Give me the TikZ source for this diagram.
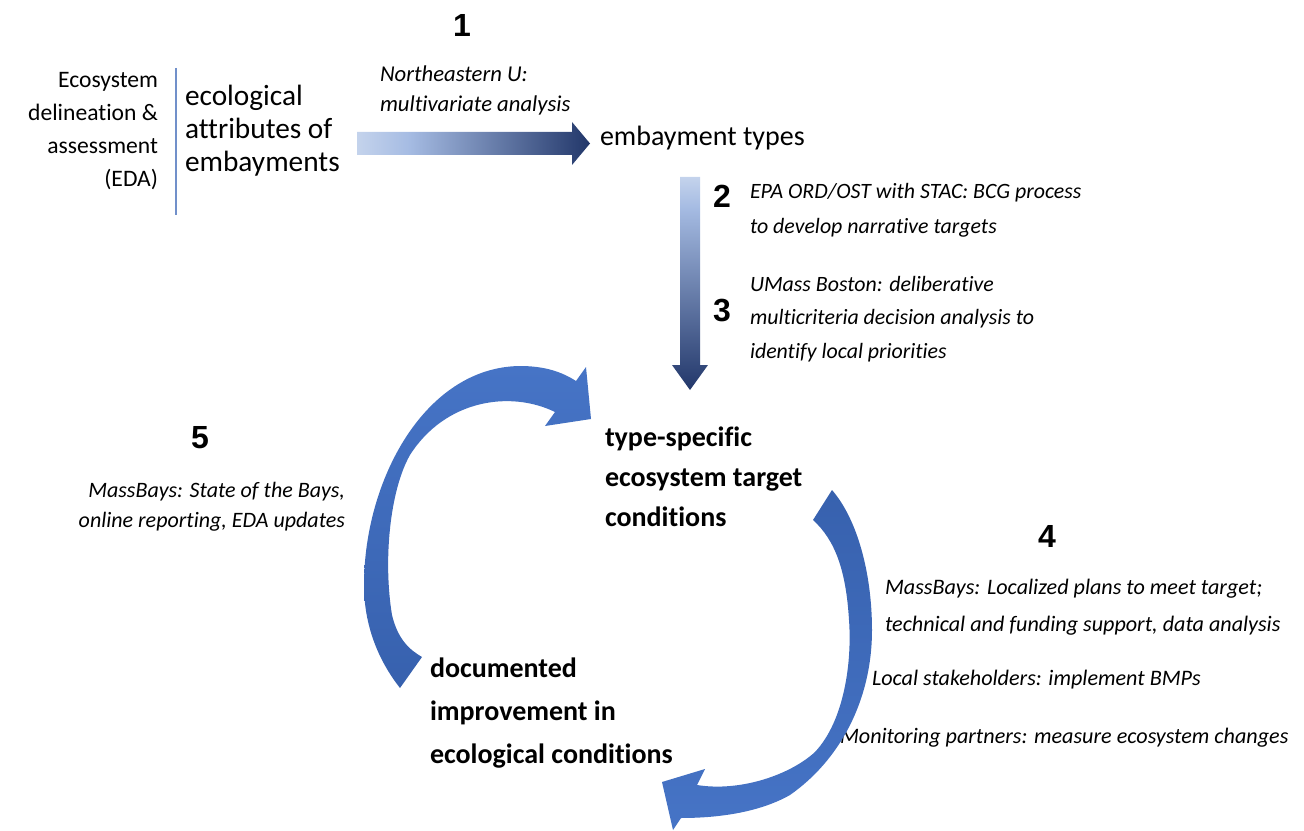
\documentclass[tikz,border=0pt]{standalone}
\usepackage{fontspec}
\setmainfont{Carlito}[Ligatures=CommonOff]
\newfontfamily\numfont{Liberation Sans}
\usetikzlibrary{positioning}

\definecolor{barlight}{HTML}{C4D3EC}
\definecolor{barmid}{HTML}{A6BCE3}
\definecolor{bardark}{HTML}{22376A}
\definecolor{looplight}{HTML}{4674C6}
\definecolor{loopdark}{HTML}{3761AE}
\definecolor{rulecol}{HTML}{7190CA}

\pgfdeclarehorizontalshading{typesbar}{100bp}{color(0bp)=(barlight); color(25bp)=(barlight);
  color(36bp)=(barmid); color(75bp)=(bardark); color(100bp)=(bardark)}
\pgfdeclareverticalshading{targetbar}{100bp}{color(0bp)=(bardark); color(25bp)=(bardark);
  color(68bp)=(barmid); color(75bp)=(barlight); color(100bp)=(barlight)}

\begin{document}
\begin{tikzpicture}[x=0.75pt, y=-0.75pt,
    every node/.style={inner sep=0pt, outer sep=0pt},
    edabox/.style={align=right, font=\fontsize{17.7}{24.75}\selectfont},
    attrbox/.style={align=left, font=\fontsize{22}{24.75}\selectfont},
    typebox/.style={font=\fontsize{21}{24.75}\selectfont},
    keybox/.style={align=left, font=\bfseries\fontsize{21}{30}\selectfont},
    notebox/.style={align=left, font=\itshape\fontsize{16.5}{25}\selectfont},
    stepnum/.style={font=\numfont\bfseries\fontsize{24}{24}\selectfont}]
        \useasboundingbox (0,0) rectangle (1304,831);

        \node (eda) [edabox, anchor=east] at (158,131) {Ecosystem\\delineation \&\\assessment\\(EDA)};
        \draw [rulecol, line width=1pt] (176,68) -- (176,215);
        \node (attr) [attrbox, anchor=west] at (185,131) {ecological\\attributes of\\embayments};
        \node (types) [typebox, anchor=west] at (600,138) {embayment types};
        \node (target) [keybox, anchor=west] at (605,477) {type-specific\\ecosystem target\\conditions};
        \node (improve) [keybox, anchor=west, font=\bfseries\fontsize{21}{32.3}\selectfont] at (430,713) {documented\\improvement in\\ecological conditions};

        \node (n1) [stepnum] at (462,25) {1};
        \node (n2) [stepnum] at (722,196) {2};
        \node (n3) [stepnum] at (722,311) {3};
        \node (n4) [stepnum] at (1047,536) {4};
        \node (n5) [stepnum] at (200,438) {5};

        \node (s1) [notebox, font=\itshape\fontsize{17}{22.5}\selectfont, anchor=west] at (380,90) {Northeastern U:\\multivariate analysis};
        \node (s2) [notebox, font=\itshape\fontsize{16.4}{26}\selectfont, anchor=west] at (750,210) {EPA ORD/OST with STAC: BCG process\\to develop narrative targets};
        \node (s3) [notebox, font=\itshape\fontsize{16.4}{25.2}\selectfont, anchor=west] at (750,319) {UMass Boston: deliberative\\multicriteria decision analysis to\\identify local priorities};
        \node (s5) [notebox, font=\itshape\fontsize{16.5}{22.5}\selectfont, align=right, anchor=east] at (345,507) {MassBays: State of the Bays,\\online reporting, EDA updates};
        \node (s4a) [notebox, font=\itshape\fontsize{16.6}{27.8}\selectfont, anchor=west] at (885,607) {MassBays: Localized plans to meet target;\\technical and funding support, data analysis};
        \node (s4b) [notebox, font=\itshape\fontsize{16.6}{20}\selectfont, anchor=west] at (872,680) {Local stakeholders: implement BMPs};
        \node (s4c) [notebox, font=\itshape\fontsize{16.6}{20}\selectfont, anchor=west] at (840,738) {Monitoring partners: measure ecosystem changes};

        % attributes -> types, types -> target
        \shade [shading=typesbar] (357,132) -- (572,132) -- (572,122) -- (590,143.5)
                -- (572,165) -- (572,155) -- (357,155) -- cycle;
        \shade [shading=targetbar] (680,177) -- (700,177) -- (700,365) -- (708,365)
                -- (690,390) -- (672,365) -- (680,365) -- cycle;

        % target -> improvement (right loop)
        \shade [top color=loopdark, bottom color=looplight]
                (832,490) .. controls (858,520) and (872,575) .. (872,630)
                .. controls (872,700) and (840,760) .. (790,795)
                .. controls (760,812) and (720,818) .. (681,818)
                -- (673,830) -- (662,782) -- (705,769) -- (697,785)
                .. controls (740,792) and (790,775) .. (815,752)
                .. controls (845,720) and (852,660) .. (849,620)
                .. controls (846,570) and (835,540) .. (813,520)
                -- cycle;

        % improvement -> target (left loop)
        \shade [top color=looplight, bottom color=loopdark]
                (400,688) .. controls (378,660) and (364,625) .. (364,585)
                .. controls (364,480) and (425,367) .. (520,366)
                .. controls (545,366) and (562,372) .. (576,381)
                -- (586,367) -- (591,419) -- (545,426) -- (555,412)
                .. controls (510,390) and (445,400) .. (410,455)
                .. controls (390,490) and (383,560) .. (392,615)
                .. controls (398,640) and (410,650) .. (422,657)
                -- cycle;
\end{tikzpicture}
\end{document}
